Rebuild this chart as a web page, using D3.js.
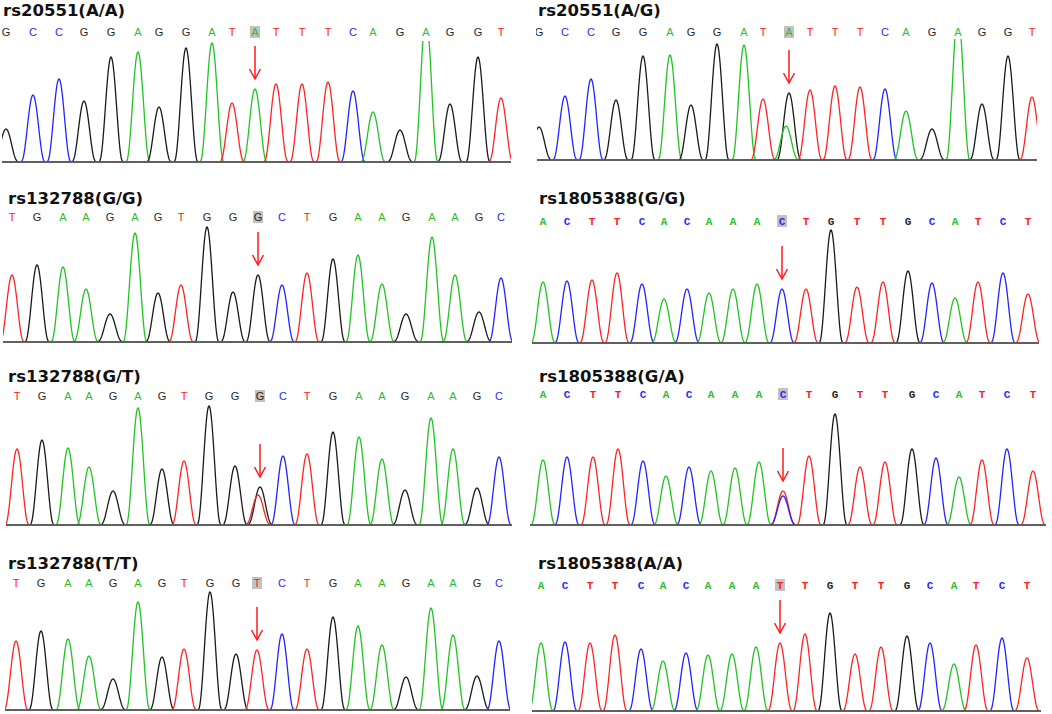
<!DOCTYPE html>
<html>
<head>
<meta charset="utf-8">
<script src="https://cdn.jsdelivr.net/npm/d3@7"></script>
<style>
body { margin: 0; background: #fff; }
svg { display: block; }
</style>
</head>
<body>
<div id="chart-area"></div>
<script>
// Sanger traces: one panel per genotype
var titles = ["rs20551(A/A)", "rs20551(A/G)", "rs132788(G/G)", "rs1805388(G/G)",
              "rs132788(G/T)", "rs1805388(G/A)", "rs132788(T/T)", "rs1805388(A/A)"];

// called bases shown above each trace
var calls = ["GCCGGAGGATATTTCAGAGGT", "GCCGGAGGATATTTCAGAGGT",
             "TGAAGAGTGGGCTGAAGAAGC", "ACTTCACAAACTGTTGCATCT",
             "TGAAGAGTGGGCTGAAGAAGC", "ACTTCACAAACTGTTGCATCT",
             "TGAAGAGTGGTCTGAAGAAGC", "ACTTCACAAATTGTTGCATCT"];

// the SNP site (highlighted base) and the peaks found there
var siteIndex = 10;
var siteMain = ["A", "G", "G", "C", "G", "T", "T", "T"];
var siteMinor = [null, ["A", 260, 33], null, null, ["T", 258, 29], ["C", 257, 28], null, null];

// peak positions (scan units) per panel
var peakPos = [
  [6, 33, 59, 84, 111, 138, 159, 186, 212, 232, 255, 276, 302, 328, 353, 373, 400, 426, 450, 478, 501],
  [13, 39, 65, 90, 117, 144, 165, 191, 218, 237, 263, 284, 309, 334, 359, 380, 406, 432, 456, 482, 506],
  [12, 37, 63, 86, 110, 135, 158, 181, 207, 233, 258, 282, 307, 333, 358, 382, 406, 432, 455, 479, 501],
  [17, 41, 66, 91, 116, 138, 161, 183, 207, 231, 256, 280, 305, 331, 357, 382, 406, 429, 452, 477, 502],
  [17, 42, 68, 89, 113, 138, 162, 184, 209, 235, 260, 283, 307, 333, 359, 382, 405, 431, 453, 477, 499],
  [17, 41, 67, 92, 117, 140, 163, 185, 209, 233, 257, 283, 309, 334, 359, 386, 410, 433, 456, 481, 507],
  [16, 41, 68, 89, 113, 138, 162, 184, 210, 236, 257, 282, 307, 333, 358, 382, 406, 431, 453, 477, 499],
  [15, 39, 64, 89, 115, 137, 160, 182, 206, 230, 254, 279, 304, 329, 355, 381, 404, 428, 450, 476, 501]
];

// peak signal heights per panel (values over 119 are off scale)
var peakHeight = [
  [32, 66, 82, 60, 104, 109, 54, 113, 118, 58, 72, 77, 77, 79, 70, 49, 31, 145, 57, 104, 63],
  [32, 63, 80, 59, 103, 104, 54, 115, 114, 60, 66, 69, 73, 72, 70, 48, 30, 145, 55, 103, 62],
  [66, 76, 74, 52, 27, 108, 48, 56, 114, 49, 66, 56, 68, 82, 86, 57, 27, 104, 66, 29, 63],
  [60, 61, 62, 69, 58, 43, 53, 49, 53, 58, 53, 53, 112, 55, 60, 71, 59, 44, 60, 69, 48],
  [75, 84, 76, 57, 33, 116, 55, 63, 118, 58, 37, 68, 70, 92, 87, 65, 34, 106, 75, 36, 67],
  [64, 67, 67, 75, 63, 48, 57, 53, 56, 62, 33, 68, 110, 57, 62, 75, 66, 47, 64, 75, 53],
  [68, 78, 70, 53, 30, 107, 52, 60, 117, 55, 59, 75, 60, 92, 83, 64, 32, 101, 74, 33, 68],
  [67, 68, 67, 75, 61, 49, 57, 55, 56, 63, 67, 76, 97, 56, 63, 74, 67, 46, 65, 72, 52]
];

var traceColor = { A: "#22c422", C: "#2424ff", G: "#1a1a1a", T: "#ff2424" };
var letterColor = { A: "#2ebd2e", C: "#2a2aff", G: "#262626", T: "#ff2020" };

var width = 1052, height = 714;
var maxSignal = 119;
var halfWidth = 11.5;

var panels = [
  { col: 0,   x0: 2,   x1: 511,  base: 161, letters: 32,  title: 16,  tx: 3,   mono: false },
  { col: 526, x0: 537, x1: 1037, base: 159, letters: 32,  title: 16,  tx: 538, mono: false },
  { col: 0,   x0: 3,   x1: 512,  base: 341, letters: 217, title: 204, tx: 8,   mono: false },
  { col: 526, x0: 532, x1: 1039, base: 342, letters: 221, title: 204, tx: 539, mono: true },
  { col: 0,   x0: 6,   x1: 512,  base: 524, letters: 396, title: 382, tx: 8,   mono: false },
  { col: 526, x0: 530, x1: 1046, base: 524, letters: 394, title: 382, tx: 539, mono: true },
  { col: 0,   x0: 5,   x1: 510,  base: 709, letters: 583, title: 569, tx: 8,   mono: false },
  { col: 526, x0: 532, x1: 1041, base: 710, letters: 585, title: 569, tx: 538, mono: true }
];

var svg = d3.select("#chart-area")
    .append("svg")
        .attr("width", width)
        .attr("height", height);

var defs = svg.append("defs");

function peakPoints(c, h) {
    return d3.range(-halfWidth, halfWidth + 0.01, 0.5).map(function(d) {
        var v = Math.cos(Math.PI * d / (2 * halfWidth));
        return [c + d, h * v * v];
    });
}

panels.forEach(function(p, i) {
    var x = d3.scaleLinear().domain([0, 520]).range([p.col, p.col + 520]);
    var y = d3.scaleLinear().domain([0, maxSignal]).range([p.base, p.base - maxSignal]);

    var line = d3.line()
        .x(function(d) { return x(d[0]); })
        .y(function(d) { return y(d[1]); });

    // clip for traces (x range and off-scale top) and for letters
    defs.append("clipPath").attr("id", "trace-clip-" + i)
        .append("rect")
            .attr("x", p.x0).attr("y", y(maxSignal) - 1)
            .attr("width", p.x1 - p.x0).attr("height", maxSignal + 2);
    defs.append("clipPath").attr("id", "text-clip-" + i)
        .append("rect")
            .attr("x", p.x0 - 1).attr("y", p.letters - 10)
            .attr("width", p.x1 - p.x0 + 2).attr("height", 20);

    var g = svg.append("g").attr("class", "panel");

    // Title
    g.append("text")
        .attr("x", p.tx)
        .attr("y", p.title)
        .attr("font-family", "'DejaVu Sans', sans-serif")
        .attr("font-weight", "bold")
        .attr("font-size", "16.5px")
        .attr("fill", "#111")
        .text(titles[i]);

    // Base calls
    var seq = calls[i].split("");
    var letters = g.append("g").attr("clip-path", "url(#text-clip-" + i + ")");

    letters.append("rect")
        .attr("x", x(peakPos[i][siteIndex]) - 5)
        .attr("y", p.letters - 6)
        .attr("width", 10)
        .attr("height", 12)
        .attr("fill", "#c2c2c2");

    letters.selectAll("text.base")
        .data(seq)
        .enter().append("text")
            .attr("class", "base")
            .attr("x", function(d, j) { return x(peakPos[i][j]); })
            .attr("y", p.letters)
            .attr("dy", "0.35em")
            .attr("text-anchor", "middle")
            .attr("font-family", p.mono ? "'Liberation Mono', monospace" : "'Liberation Sans', sans-serif")
            .attr("font-weight", p.mono ? "bold" : "normal")
            .attr("font-size", "11px")
            .attr("fill", function(d) { return letterColor[d]; })
            .text(function(d) { return d; });

    // Traces
    var peaks = seq.map(function(b, j) {
        return { base: j === siteIndex ? siteMain[i] : b, pos: peakPos[i][j], h: peakHeight[i][j] };
    });
    if (siteMinor[i]) {
        peaks.push({ base: siteMinor[i][0], pos: siteMinor[i][1], h: siteMinor[i][2] });
    }

    g.append("g")
        .attr("clip-path", "url(#trace-clip-" + i + ")")
        .selectAll("path")
        .data(peaks)
        .enter().append("path")
            .attr("d", function(d) { return line(peakPoints(d.pos, d.h)); })
            .attr("fill", "none")
            .attr("stroke", function(d) { return traceColor[d.base]; })
            .attr("stroke-width", 1.3)
            .attr("stroke-linejoin", "round");

    // Baseline
    g.append("line")
        .attr("x1", p.x0).attr("x2", p.x1)
        .attr("y1", p.base + 1).attr("y2", p.base + 1)
        .attr("stroke", "#2b2b2b")
        .attr("stroke-width", 1.6);

    // Arrow over the SNP
    var ax = x(peakPos[i][siteIndex]);
    var tip = y(peakHeight[i][siteIndex]) - 10;
    g.append("line")
        .attr("x1", ax).attr("x2", ax)
        .attr("y1", tip - 33).attr("y2", tip)
        .attr("stroke", "#ff1a1a")
        .attr("stroke-width", 1.5);
    g.append("path")
        .attr("d", "M" + (ax - 5.5) + "," + (tip - 10) + "L" + ax + "," + tip + "L" + (ax + 5.5) + "," + (tip - 10))
        .attr("fill", "none")
        .attr("stroke", "#ff1a1a")
        .attr("stroke-width", 1.5);
});
</script>
</body>
</html>
